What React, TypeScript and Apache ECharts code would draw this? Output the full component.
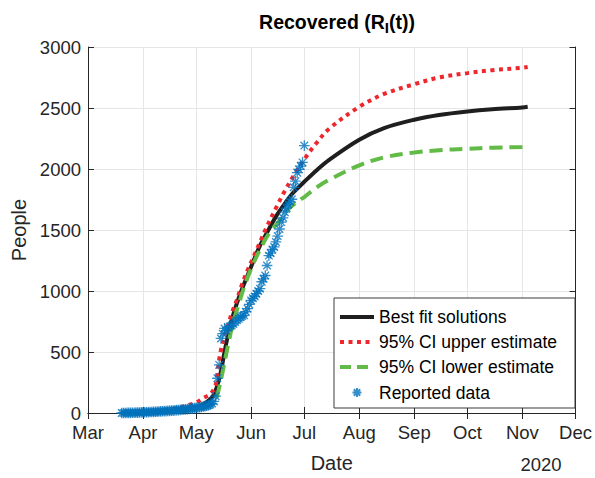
import React, { useEffect, useRef } from "react";
import * as echarts from "echarts";

// Reported cumulative recoveries, one value per day starting on reportedStart
const reportedStart = "2020-03-20";
const reportedValues = [
  // Mar 20 – Mar 31
  0, 0, 0, 1, 1, 1, 2, 2, 3, 3, 4, 5,
  // Apr 1 – Apr 30
  5, 6, 6, 7, 8, 8, 9, 10, 11, 12, 13, 14, 15, 16, 17, 18, 19, 20, 22, 23,
  24, 26, 27, 29, 30, 32, 34, 36, 38, 40,
  // May 1 – May 31
  42, 45, 48, 50, 53, 56, 60, 64, 70, 78, 95, 138, 285, 394, 611, 650, 693,
  676, 700, 710, 717, 730, 745, 760, 772, 785, 795, 801, 830, 856, 890,
  // Jun 1 – Jun 30
  923, 940, 955, 978, 1000, 1019, 1076, 1100, 1127, 1209, 1290, 1310, 1340,
  1361, 1402, 1450, 1508, 1565, 1600, 1646, 1680, 1711, 1730, 1752, 1850,
  1900, 1970, 1997, 2024, 2054,
  // Jul 1
  2192,
];

// Best fit model solution
const bestFitDates = [
  "2020-03-20", "2020-04-01", "2020-04-15", "2020-05-01", "2020-05-06",
  "2020-05-09", "2020-05-11", "2020-05-13", "2020-05-15", "2020-05-17",
  "2020-05-19", "2020-05-21", "2020-05-24", "2020-05-27", "2020-05-30",
  "2020-06-03", "2020-06-06", "2020-06-10", "2020-06-15", "2020-06-20",
  "2020-06-25", "2020-07-01", "2020-07-08", "2020-07-15", "2020-08-01",
  "2020-08-15", "2020-09-01", "2020-09-15", "2020-10-01", "2020-10-15",
  "2020-11-01", "2020-11-04",
];
const bestFitValues = [
  0, 4, 14, 45, 80, 115, 150, 230, 342, 500, 640, 760, 900, 1020, 1127, 1270,
  1372, 1480, 1610, 1716, 1810, 1895, 1990, 2075, 2240, 2335, 2404, 2443,
  2472, 2490, 2505, 2510,
];

// 95% CI upper estimate
const upperDates = [
  "2020-03-20", "2020-04-01", "2020-04-15", "2020-04-30", "2020-05-05",
  "2020-05-09", "2020-05-11", "2020-05-12", "2020-05-13", "2020-05-14",
  "2020-05-15", "2020-05-17", "2020-05-19", "2020-05-21", "2020-05-24",
  "2020-05-27", "2020-05-30", "2020-06-03", "2020-06-06", "2020-06-09",
  "2020-06-15", "2020-06-20", "2020-06-25", "2020-07-01", "2020-07-08",
  "2020-07-15", "2020-08-01", "2020-08-15", "2020-09-01", "2020-09-15",
  "2020-10-01", "2020-10-15", "2020-11-01", "2020-11-04",
];
const upperValues = [
  0, 6, 25, 80, 122, 155, 195, 231, 326, 440, 516, 625, 720, 815, 930, 1060,
  1170, 1300, 1400, 1500, 1680, 1820, 1945, 2080, 2215, 2330, 2510, 2615,
  2695, 2750, 2786, 2810, 2830, 2836,
];

// 95% CI lower estimate
const lowerDates = [
  "2020-03-20", "2020-04-01", "2020-04-15", "2020-05-01", "2020-05-08",
  "2020-05-11", "2020-05-12", "2020-05-14", "2020-05-16", "2020-05-19",
  "2020-05-22", "2020-05-25", "2020-05-28", "2020-06-01", "2020-06-06",
  "2020-06-11", "2020-06-16", "2020-06-22", "2020-06-29", "2020-07-01",
  "2020-07-08", "2020-07-15", "2020-08-01", "2020-08-15", "2020-09-01",
  "2020-09-15", "2020-10-01", "2020-10-15", "2020-11-01", "2020-11-04",
];
const lowerValues = [
  0, 3, 10, 30, 55, 80, 98, 210, 342, 557, 750, 890, 1030, 1182, 1340, 1470,
  1560, 1671, 1752, 1770, 1850, 1912, 2030, 2095, 2135, 2154, 2166, 2174,
  2181, 2183,
];

const monthNames = [
  "Jan", "Feb", "Mar", "Apr", "May", "Jun",
  "Jul", "Aug", "Sep", "Oct", "Nov", "Dec",
];
const xMin = "2020-03-01";
const xMax = "2020-12-01";
const yTicks = [0, 500, 1000, 1500, 2000, 2500, 3000];
const yearLabel = "2020";

const FONT = "'Liberation Sans', Arial, Helvetica, sans-serif";
const AXIS_COLOR = "#262626";
const GRID_COLOR = "#e6e6e6";

const BLACK = "#1f1f1f";
const RED = "#ef262c";
const GREEN = "#62bb46";
const BLUE = "#0072bd";

const TICK_FONT = 18.5;
const NAME_FONT = 20;

// asterisk marker (the zero-length corner segments only widen its box)
const ASTERISK =
  "path://M-9 -9L-9 -9M9 9L9 9M0 -4.8L0 4.8M-4.8 0L4.8 0M-3.4 -3.4L3.4 3.4M-3.4 3.4L3.4 -3.4";

function dayString(start: string, offset: number): string {
  const [y, m, d] = start.split("-").map(Number);
  const t = new Date(Date.UTC(y, m - 1, d + offset));
  return t.toISOString().slice(0, 10);
}

function pairs(dates: string[], values: number[]) {
  return dates.map((d, i) => [d, values[i]]);
}

export default function App() {
  const ref = useRef<HTMLDivElement>(null);

  useEffect(() => {
    if (!ref.current) return;
    const chart = echarts.init(ref.current, undefined, { renderer: "svg" });

    const reported = reportedValues.map((v, i) => [dayString(reportedStart, i), v]);
    const day = 24 * 3600 * 1000;

    const timeAxisBase = {
      type: "time" as const,
      min: xMin,
      max: xMax,
      splitNumber: 9,
      minInterval: 28 * day,
      maxInterval: 31 * day,
      axisLine: { show: true, lineStyle: { color: AXIS_COLOR, width: 1 } },
      axisTick: { show: true, inside: true, length: 6, lineStyle: { color: AXIS_COLOR } },
    };
    const valueAxisBase = {
      type: "value" as const,
      min: yTicks[0],
      max: yTicks[yTicks.length - 1],
      interval: yTicks[1] - yTicks[0],
      axisLine: { show: true, lineStyle: { color: AXIS_COLOR, width: 1 } },
      axisTick: { show: true, inside: true, length: 6, lineStyle: { color: AXIS_COLOR } },
    };

    const hiddenMarker = { color: "rgba(0,0,0,0)", borderWidth: 0, opacity: 0 };

    chart.setOption({
      animation: false,
      backgroundColor: "#ffffff",
      textStyle: { fontFamily: FONT },
      title: {
        text: "{a|Recovered (R}{b|I}{a|(t))}",
        left: 332,
        top: 3,
        textAlign: "center",
        textStyle: {
          rich: {
            a: { fontSize: 19.5, fontWeight: "bold", color: "#000", fontFamily: FONT },
            b: {
              fontSize: 15,
              fontWeight: "bold",
              color: "#000",
              fontFamily: FONT,
              padding: [12, 0, 0, 0],
            },
          },
        },
      },
      grid: { left: 88, top: 47, right: 18, bottom: 63, containLabel: false },
      xAxis: [
        {
          ...timeAxisBase,
          position: "bottom",
          axisLabel: {
            show: true,
            color: AXIS_COLOR,
            fontSize: TICK_FONT,
            fontFamily: FONT,
            margin: 10,
            hideOverlap: false,
            showMinLabel: true,
            showMaxLabel: true,
            formatter: (v: number) => monthNames[new Date(v).getMonth()],
          },
          splitLine: { show: true, lineStyle: { color: GRID_COLOR, width: 1 } },
          name: "Date",
          nameLocation: "middle",
          nameGap: 40,
          nameTextStyle: { fontSize: NAME_FONT, color: AXIS_COLOR, fontFamily: FONT },
        },
        {
          ...timeAxisBase,
          position: "top",
          axisLabel: { show: false },
          splitLine: { show: false },
        },
      ],
      yAxis: [
        {
          ...valueAxisBase,
          position: "left",
          axisLabel: {
            color: AXIS_COLOR,
            fontSize: TICK_FONT,
            fontFamily: FONT,
            margin: 7,
            formatter: (v: number) => String(v),
          },
          splitLine: { show: true, lineStyle: { color: GRID_COLOR, width: 1 } },
          name: "People",
          nameLocation: "middle",
          nameGap: 55,
          nameTextStyle: { fontSize: NAME_FONT, color: AXIS_COLOR, fontFamily: FONT },
        },
        {
          ...valueAxisBase,
          position: "right",
          axisLabel: { show: false },
          splitLine: { show: false },
        },
      ],
      legend: {
        orient: "vertical",
        left: 334,
        top: 298,
        padding: [10, 18, 6, 4],
        itemWidth: 34,
        itemHeight: 17,
        itemGap: 7,
        selectedMode: false,
        backgroundColor: "#ffffff",
        borderColor: "#3a3a3a",
        borderWidth: 1,
        borderRadius: 0,
        textStyle: { fontSize: 17.5, color: "#000", fontFamily: FONT, lineHeight: 17 },
        data: [
          {
            name: "Best fit solutions",
            itemStyle: hiddenMarker,
            lineStyle: { color: BLACK, width: 4 },
          },
          {
            name: "95% CI upper estimate",
            itemStyle: hiddenMarker,
            lineStyle: { color: RED, width: 4, type: [4, 4.5], cap: "butt" },
          },
          {
            name: "95% CI lower estimate",
            itemStyle: hiddenMarker,
            lineStyle: { color: GREEN, width: 4, type: [11, 6], cap: "butt" },
          },
          { name: "Reported data", icon: ASTERISK },
        ],
      },
      series: [
        {
          name: "Best fit solutions",
          type: "line",
          data: pairs(bestFitDates, bestFitValues),
          showSymbol: false,
          symbol: "none",
          smooth: 0.35,
          color: BLACK,
          lineStyle: { color: BLACK, width: 4 },
          z: 2,
        },
        {
          name: "95% CI upper estimate",
          type: "line",
          data: pairs(upperDates, upperValues),
          showSymbol: false,
          symbol: "none",
          smooth: 0.35,
          color: RED,
          lineStyle: { color: RED, width: 4, type: [4, 4.5], cap: "butt" },
          z: 2,
        },
        {
          name: "95% CI lower estimate",
          type: "line",
          data: pairs(lowerDates, lowerValues),
          showSymbol: false,
          symbol: "none",
          smooth: 0.35,
          color: GREEN,
          lineStyle: { color: GREEN, width: 4, type: [13, 7], cap: "butt" },
          z: 2,
        },
        {
          name: "Reported data",
          type: "scatter",
          data: reported,
          symbol: ASTERISK,
          symbolSize: 20,
          symbolKeepAspect: true,
          itemStyle: {
            color: "rgba(0,0,0,0)",
            borderColor: BLUE,
            borderWidth: 1.3,
          },
          z: 3,
        },
      ],
      graphic: [
        {
          type: "text",
          x: 541,
          y: 464,
          style: {
            text: yearLabel,
            fontSize: TICK_FONT,
            fontFamily: FONT,
            fill: AXIS_COLOR,
            align: "center",
            verticalAlign: "middle",
            textAlign: "center",
            textVerticalAlign: "middle",
          },
        },
      ],
    });

    return () => chart.dispose();
  }, []);

  return (
    <div
      ref={ref}
      style={{ position: "fixed", left: 0, top: 0, width: 595, height: 478 }}
    />
  );
}
